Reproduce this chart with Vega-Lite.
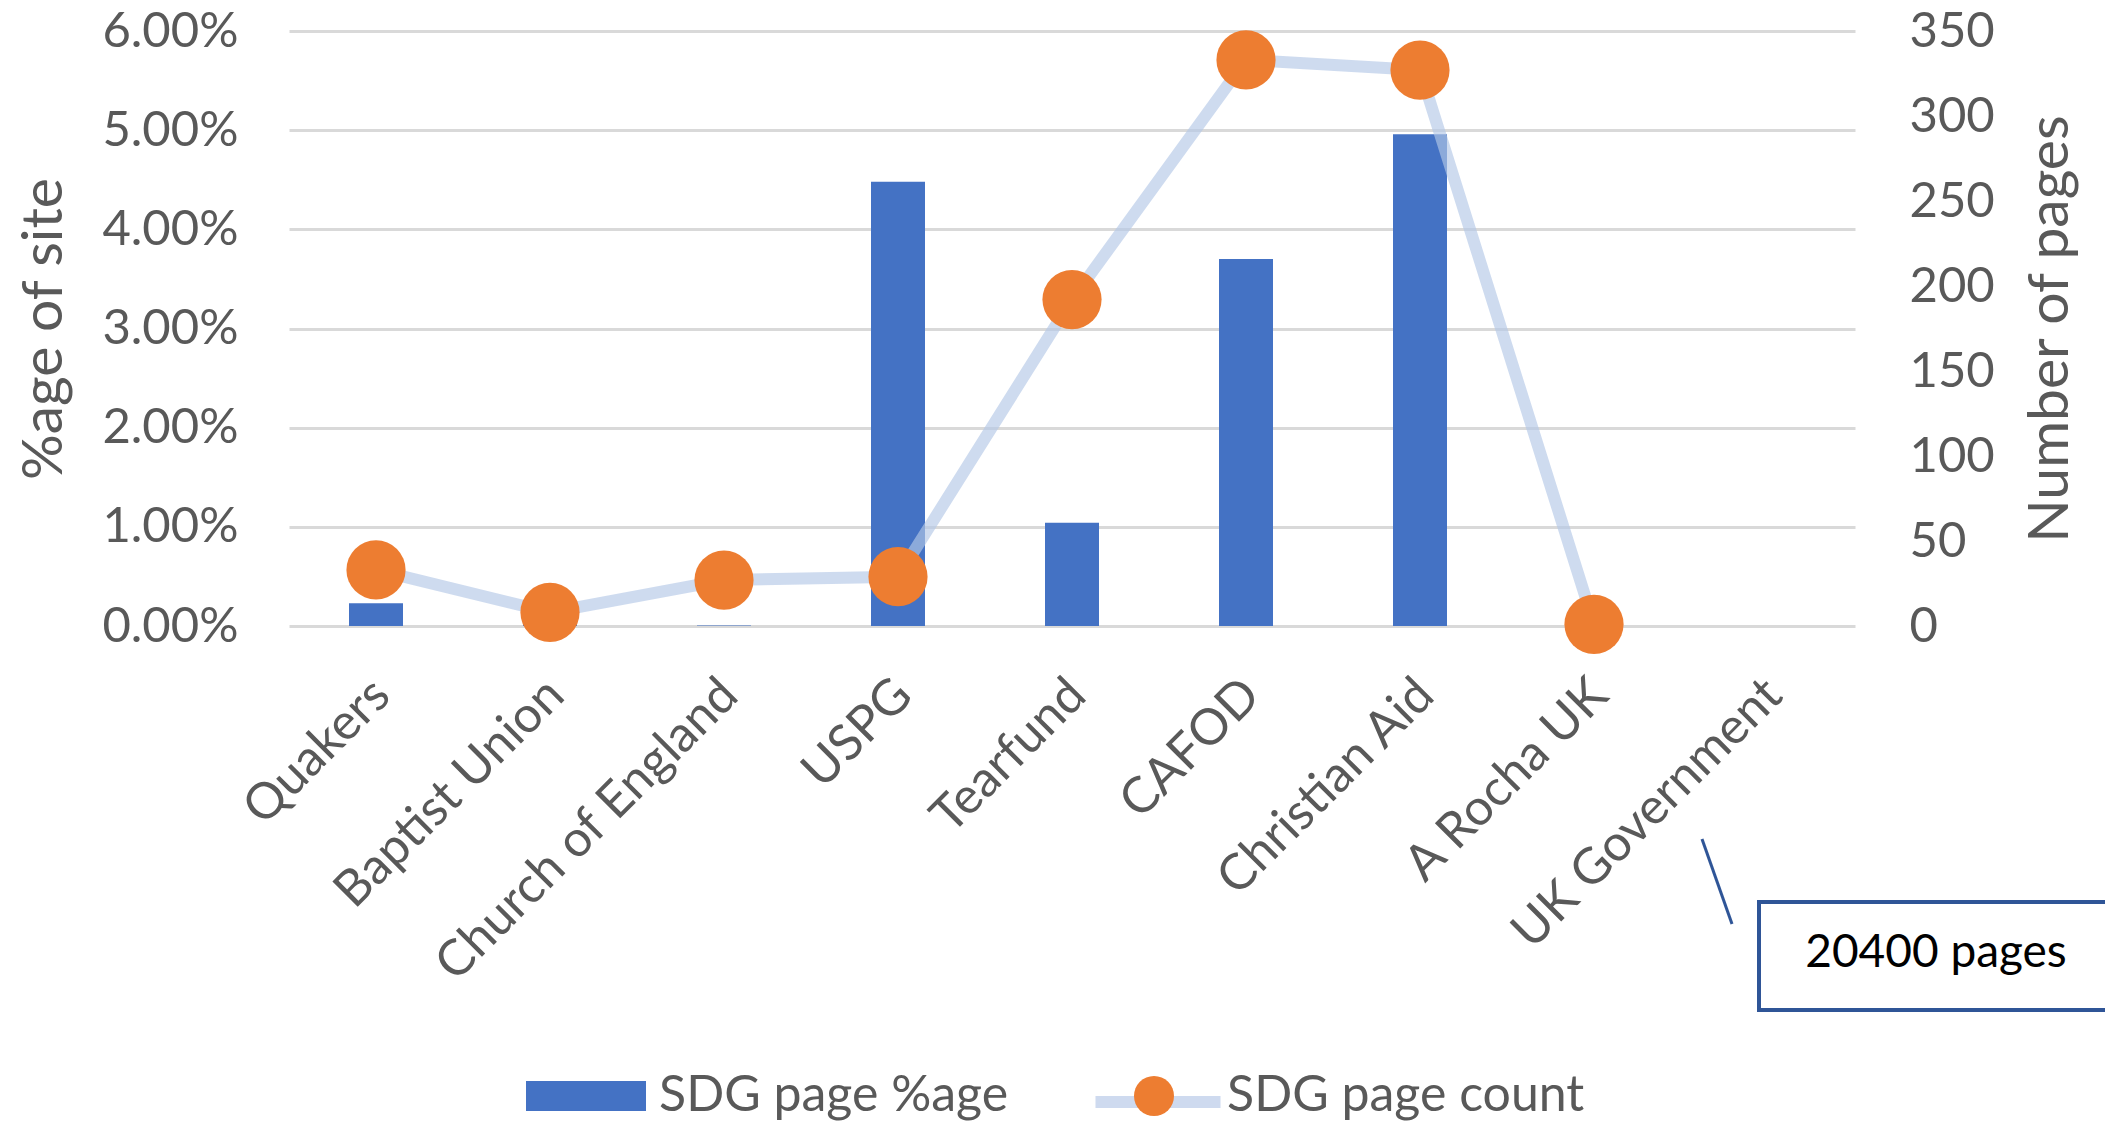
{
  "$schema": "https://vega.github.io/schema/vega-lite/v6.json",
  "autosize": {"type": "none"},
  "width": 1566,
  "height": 595,
  "padding": {"left": 289, "top": 31, "right": 250, "bottom": 496},
  "background": "white",
  "config": {"view": {"stroke": null}, "font": "Lato"},
  "data": {
    "values": [
      {"Organisation": "Quakers", "pct": 0.0023, "count": 33},
      {"Organisation": "Baptist Union", "pct": 0.001, "count": 8},
      {"Organisation": "Church of England", "pct": 0.00005, "count": 27},
      {"Organisation": "USPG", "pct": 0.0448, "count": 29},
      {"Organisation": "Tearfund", "pct": 0.0104, "count": 192},
      {"Organisation": "CAFOD", "pct": 0.037, "count": 333},
      {"Organisation": "Christian Aid", "pct": 0.0496, "count": 327},
      {"Organisation": "A Rocha UK", "pct": 0.00005, "count": 1},
      {"Organisation": "UK Government", "pct": null, "count": null}
    ]
  },
  "layer": [
    {
      "mark": {"type": "bar", "width": 54, "color": "#4472C4"},
      "encoding": {
        "x": {
          "field": "Organisation", "type": "nominal", "sort": null,
          "scale": {"domain": ["Quakers", "Baptist Union", "Church of England", "USPG", "Tearfund", "CAFOD", "Christian Aid", "A Rocha UK", "UK Government"], "paddingInner": 0, "paddingOuter": 0},
          "axis": {"title": null, "labelAngle": -45, "labelAlign": "right", "labelBaseline": "middle", "labelPadding": 61, "labelOffset": 6, "labelFontSize": 50, "labelColor": "#595959", "labelLimit": 1000, "ticks": false, "tickSize": 0, "domain": false, "grid": false}
        },
        "y": {
          "field": "pct", "type": "quantitative",
          "scale": {"domain": [0, 0.06], "nice": false},
          "axis": {"orient": "left", "title": "%age of site", "values": [0, 0.01, 0.02, 0.03, 0.04, 0.05, 0.06], "format": ".2%", "labelFontSize": 49, "labelColor": "#595959", "labelPadding": 51, "ticks": false, "tickSize": 0, "domain": false, "grid": true, "gridColor": "#D9D9D9", "gridWidth": 3, "titleFontSize": 57, "titleFontWeight": "normal", "titleColor": "#595959", "titleAngle": -90, "titleAlign": "center", "titleBaseline": "middle", "titleX": -245, "titleY": 297.5}
        },
        "fill": {
          "datum": "SDG page %age",
          "scale": {"domain": ["SDG page %age", "SDG page count"], "range": ["#4472C4", "#ED7D31"]},
          "legend": {"title": null, "orient": "none", "legendX": 237, "legendY": 1005, "direction": "horizontal", "padding": 0, "zindex": 2, "symbolSize": 14400, "symbolStrokeWidth": 0, "symbolOpacity": 1, "labelFontSize": 50, "labelColor": "#595959", "labelOffset": 13, "labelLimit": 600, "columnPadding": 85,
            "encode": {"symbols": {"update": {"shape": {"signal": "datum.value === 'SDG page count' ? 'circle' : 'M-1,-0.25H1V0.25H-1Z'"}, "size": {"signal": "datum.value === 'SDG page count' ? 1600 : 14400"}, "strokeWidth": {"value": 0}, "opacity": {"value": 1}}}}
          }
        }
      }
    },
    {
      "layer": [
        {
          "mark": {"type": "line", "strokeWidth": 12, "opacity": 0.65},
          "encoding": {
            "x": {"field": "Organisation", "type": "nominal", "sort": null},
            "y": {
              "field": "count", "type": "quantitative",
              "scale": {"domain": [0, 350], "nice": false},
              "axis": {"orient": "right", "title": "Number of pages", "values": [0, 50, 100, 150, 200, 250, 300, 350], "labelFontSize": 49, "labelColor": "#595959", "labelPadding": 54, "ticks": false, "tickSize": 0, "domain": false, "grid": false, "titleFontSize": 57, "titleFontWeight": "normal", "titleColor": "#595959", "titleAngle": -90, "titleAlign": "center", "titleBaseline": "middle", "titleX": 195, "titleY": 297.5}
            },
            "stroke": {
              "datum": "SDG page count",
              "scale": {"domain": ["SDG page count"], "range": ["#B4C7E7"]},
              "legend": {"title": null, "orient": "none", "legendX": 800.5, "legendY": 1002.5, "padding": 0, "zindex": 1, "symbolType": "stroke", "symbolSize": 15625, "symbolStrokeWidth": 12, "symbolOpacity": 0.65, "labelExpr": "''", "labelFontSize": 1}
            }
          }
        },
        {
          "mark": {"type": "point", "filled": true, "size": 3500, "opacity": 1, "strokeWidth": 0},
          "encoding": {
            "x": {"field": "Organisation", "type": "nominal", "sort": null},
            "y": {"field": "count", "type": "quantitative", "axis": null},
            "fill": {"datum": "SDG page count"}
          }
        },
        {
          "data": {"values": [{"Organisation": "UK Government", "note": "20400 pages"}]},
          "mark": {"type": "rule", "color": "#2F5597", "strokeWidth": 3, "xOffset": -66, "x2Offset": -36, "yOffset": 213, "y2Offset": 298},
          "encoding": {
            "x": {"field": "Organisation", "type": "nominal"},
            "x2": {"field": "Organisation"},
            "y": {"datum": 0, "type": "quantitative", "axis": null},
            "y2": {"datum": 0}
          }
        },
        {
          "data": {"values": [{"Organisation": "UK Government", "note": "20400 pages"}]},
          "mark": {"type": "point", "shape": "M-1,-0.305H1V0.305H-1Z", "size": 125316, "filled": true, "fill": "white", "stroke": "#2F5597", "strokeWidth": 4, "opacity": 1, "xOffset": 168, "yOffset": 330},
          "encoding": {
            "x": {"field": "Organisation", "type": "nominal"},
            "y": {"datum": 0, "type": "quantitative", "axis": null}
          }
        },
        {
          "data": {"values": [{"Organisation": "UK Government", "note": "20400 pages"}]},
          "mark": {"type": "text", "dx": 168, "dy": 327, "fontSize": 46, "color": "#000000", "align": "center", "baseline": "middle"},
          "encoding": {
            "x": {"field": "Organisation", "type": "nominal"},
            "y": {"datum": 0, "type": "quantitative", "axis": null},
            "text": {"field": "note"}
          }
        }
      ],
      "resolve": {"axis": {"y": "independent"}}
    }
  ],
  "resolve": {"scale": {"y": "independent"}}
}
